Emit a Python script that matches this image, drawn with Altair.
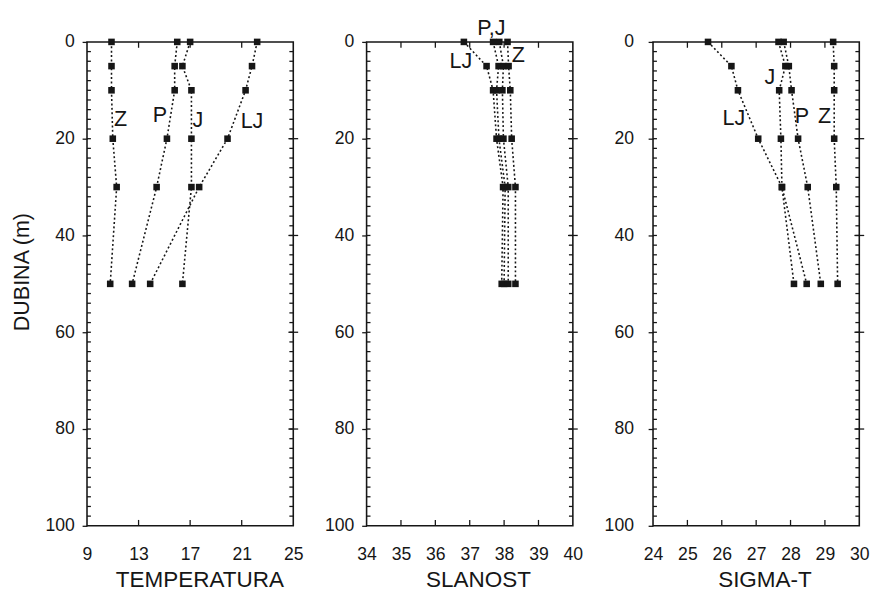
import altair as alt
import pandas as pd

# ---------------- data ----------------
depths = [0, 5, 10, 20, 30, 50]
series = ["LJ", "P", "J", "Z"]

temp_LJ = [22.2, 21.8, 21.3, 19.9, 17.7, 13.9]
temp_P = [16.0, 15.8, 15.8, 15.2, 14.4, 12.5]
temp_J = [17.0, 16.4, 17.1, 17.1, 17.1, 16.4]
temp_Z = [10.9, 10.9, 10.9, 11.0, 11.3, 10.8]

sal_LJ = [36.83, 37.49, 37.68, 37.78, 37.97, 37.93]
sal_P = [37.68, 37.84, 37.78, 37.85, 38.03, 38.00]
sal_J = [37.86, 37.98, 37.95, 37.98, 38.12, 38.12]
sal_Z = [38.10, 38.13, 38.18, 38.22, 38.33, 38.33]

sig_LJ = [25.60, 26.28, 26.47, 27.06, 27.75, 28.47]
sig_P = [27.80, 27.95, 28.03, 28.22, 28.50, 28.88]
sig_J = [27.65, 27.85, 27.67, 27.72, 27.75, 28.10]
sig_Z = [29.24, 29.27, 29.27, 29.27, 29.33, 29.37]

temp_ticks = [9, 13, 17, 21, 25]
sal_ticks = [34, 35, 36, 37, 38, 39, 40]
sig_ticks = [24, 25, 26, 27, 28, 29, 30]
depth_ticks = [0, 20, 40, 60, 80, 100]
depth_minor = list(range(2, 100, 2))
depth_major_inner = [20, 40, 60, 80]

temp_lab_text = ["Z", "P", "J", "LJ"]
temp_lab_x = [11.6, 14.66, 17.6, 21.8]
temp_lab_y = [16.0, 15.2, 16.2, 16.4]

sal_lab_text = ["P,J", "LJ", "Z"]
sal_lab_x = [37.63, 36.74, 38.41]
sal_lab_y = [-2.9, 4.0, 2.8]

sig_lab_text = ["J", "LJ", "P", "Z"]
sig_lab_x = [27.4, 26.35, 28.33, 28.99]
sig_lab_y = [7.3, 15.8, 15.4, 15.4]

# ---------------- styling ----------------
W, H = 211, 495
FONT = "Liberation Sans"
INK = "#161616"


def panel(values, xdom, xticks, title, lab_text, lab_x, lab_y, ytitle, label_pad, title_x):
    rows = []
    for s, vals in zip(series, values):
        for d, v in zip(depths, vals):
            rows.append({"s": s, "d": d, "v": v})
    df = pd.DataFrame(rows)
    ldf = pd.DataFrame({"t": lab_text, "x": lab_x, "y": lab_y})
    inner_x = xticks[1:-1]
    left_df = pd.DataFrame({"ex": [xdom[0]] * len(depth_minor), "ey": depth_minor})
    right_df = pd.DataFrame({"ex": [xdom[1]] * len(depth_minor), "ey": depth_minor})
    rmaj_df = pd.DataFrame({"ex": [xdom[1]] * len(depth_major_inner), "ey": depth_major_inner})
    top_df = pd.DataFrame({"ex": inner_x, "ey": [0] * len(inner_x)})
    bot_df = pd.DataFrame({"ex": inner_x, "ey": [100] * len(inner_x)})

    xs = alt.Scale(domain=xdom, nice=False, zero=False)
    ys = alt.Scale(domain=[0, 100], reverse=True, nice=False, zero=False)

    yaxis_kw = dict(values=depth_ticks, tickSize=5, labelPadding=label_pad,
                    domain=False, labelFontSize=18)
    if ytitle:
        yaxis_kw.update(title=ytitle, titleFontSize=22, titlePadding=12, titleY=235)
    else:
        yaxis_kw.update(title=None)

    lines = alt.Chart(df).mark_line(
        color=INK, strokeWidth=1.6, strokeDash=[2, 2.5]
    ).encode(
        x=alt.X("v:Q", scale=xs, axis=alt.Axis(
            values=xticks, ticks=False, domain=False, labelPadding=20,
            labelFontSize=18, title=title, titleFontSize=23, titlePadding=6,
            titleX=title_x, labelOverlap=False, labelFlush=False)),
        y=alt.Y("d:Q", scale=ys, axis=alt.Axis(**yaxis_kw)),
        detail="s:N",
        order="d:Q",
    )
    pts = alt.Chart(df).mark_square(size=45, color=INK, opacity=1).encode(
        x=alt.X("v:Q", scale=xs, axis=None),
        y=alt.Y("d:Q", scale=ys, axis=None),
    )
    txt = alt.Chart(ldf).mark_text(font=FONT, fontSize=22, color=INK).encode(
        x=alt.X("x:Q", scale=xs, axis=None),
        y=alt.Y("y:Q", scale=ys, axis=None),
        text="t:N",
    )

    def hticks(data, x1off, x2off):
        return alt.Chart(data).mark_rule(
            color=INK, strokeWidth=1.3, xOffset=x1off, x2Offset=x2off
        ).encode(
            x=alt.X("ex:Q", scale=xs, axis=None),
            x2="ex:Q",
            y=alt.Y("ey:Q", scale=ys, axis=None),
        )

    def vticks(data, y1off, y2off):
        return alt.Chart(data).mark_rule(
            color=INK, strokeWidth=1.3, yOffset=y1off, y2Offset=y2off
        ).encode(
            x=alt.X("ex:Q", scale=xs, axis=None),
            y=alt.Y("ey:Q", scale=ys, axis=None),
            y2="ey:Q",
        )

    t_left = hticks(left_df, 0, 4)
    t_right = hticks(right_df, -4, 0)
    t_rmaj = hticks(rmaj_df, -5, 5)
    t_top = vticks(top_df, 0, 6)
    t_bot = vticks(bot_df, -6, 0)

    return alt.layer(lines, pts, txt, t_left, t_right, t_rmaj, t_top, t_bot).resolve_scale(
        x="independent", y="independent"
    ).properties(width=W, height=H)


p1 = panel([temp_LJ, temp_P, temp_J, temp_Z], [9, 25], temp_ticks, "TEMPERATURA",
           temp_lab_text, temp_lab_x, temp_lab_y, "DUBINA (m)", 8, 115)
p2 = panel([sal_LJ, sal_P, sal_J, sal_Z], [34, 40], sal_ticks, "SLANOST",
           sal_lab_text, sal_lab_x, sal_lab_y, None, 8, 114)
p3 = panel([sig_LJ, sig_P, sig_J, sig_Z], [24, 30], sig_ticks, "SIGMA-T",
           sig_lab_text, sig_lab_x, sig_lab_y, None, 15, 114)

chart = alt.hconcat(p1, p2, p3, spacing=20).properties(
    padding={"left": 10, "top": 9, "right": 2, "bottom": 0},
    background="white",
).configure_view(
    stroke=INK, strokeWidth=1.6
).configure_axis(
    labelFont=FONT, titleFont=FONT, labelColor=INK, titleColor=INK,
    tickColor=INK, tickWidth=1.3, grid=False, titleFontWeight="normal",
)

chart.save("out.html", embed_options={"renderer": "svg", "actions": False})
